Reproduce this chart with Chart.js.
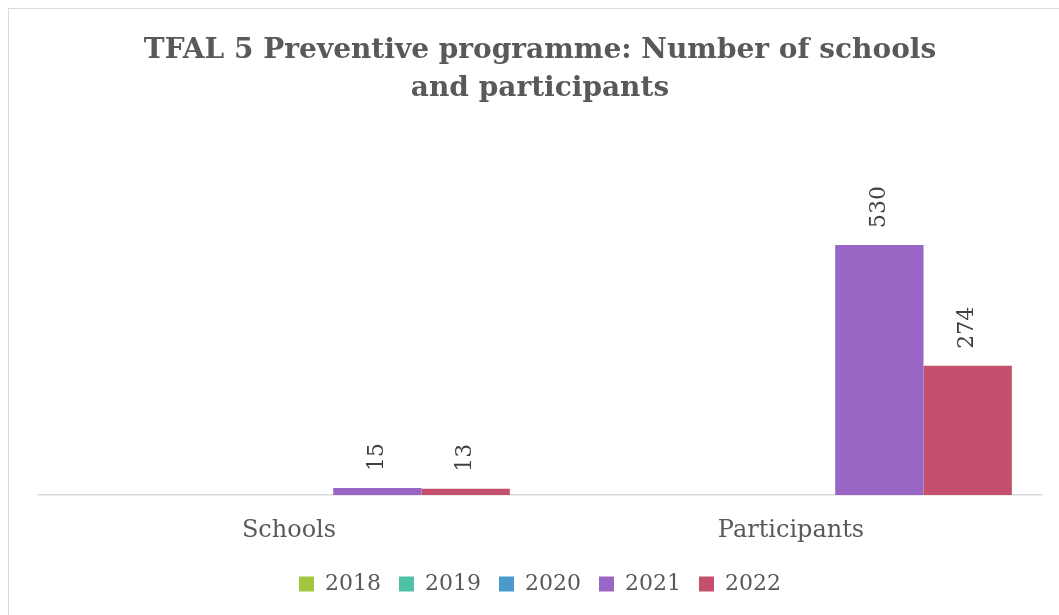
<!DOCTYPE html>
<html>
<head>
<meta charset="utf-8">
<script src="https://cdn.jsdelivr.net/npm/chart.js@4"></script>
<style>
  body { margin: 0; background: #fff; }
  #wrap { position: absolute; left: 8px; top: 8px; width: 1050px; height: 606px; border: 1px solid #d9d9d9; }
</style>
</head>
<body>
<div id="wrap"><canvas id="tfalChart"></canvas></div>
<script>
// chart data
const categories = ['Schools', 'Participants'];
const years = ['2018', '2019', '2020', '2021', '2022'];
const values2018 = [null, null];
const values2019 = [null, null];
const values2020 = [null, null];
const values2021 = [15, 530];
const values2022 = [13, 274];
const yearColors = ['#a2c43f', '#4fc0a3', '#479acb', '#9966c6', '#c5506e'];

const allValues = [values2018, values2019, values2020, values2021, values2022];

// rotated value labels above the bars
const valueLabels = {
    id: 'valueLabels',
    afterDatasetsDraw(chart) {
        const ctx = chart.ctx;
        chart.data.datasets.forEach((ds, i) => {
            const meta = chart.getDatasetMeta(i);
            meta.data.forEach((bar, j) => {
                const v = ds.data[j];
                if (v === null || v === undefined) return;
                ctx.save();
                ctx.translate(bar.x, bar.y - 17);
                ctx.rotate(-Math.PI / 2);
                ctx.font = '22px "DejaVu Serif"';
                ctx.fillStyle = '#404040';
                ctx.textAlign = 'left';
                ctx.textBaseline = 'middle';
                ctx.fillText(String(v), 0, 0);
                ctx.restore();
            });
        });
    }
};

const ctx = document.getElementById('tfalChart').getContext('2d');
const tfalChart = new Chart(ctx, {
    type: 'bar',
    data: {
        labels: categories,
        datasets: years.map((y, i) => ({
            label: y,
            data: allValues[i],
            backgroundColor: yearColors[i],
            borderWidth: 0,
            categoryPercentage: 0.88,
            barPercentage: 1
        }))
    },
    options: {
        responsive: true,
        maintainAspectRatio: false,
        animation: false,
        layout: { padding: { left: 29, right: 17, top: 0, bottom: 10 } },
        plugins: {
            title: {
                display: true,
                text: ['TFAL 5 Preventive programme: Number of schools', 'and participants'],
                color: '#595959',
                font: { family: '"DejaVu Serif"', size: 28, weight: 'bold', lineHeight: '38px' },
                padding: { top: 23, bottom: 104 }
            },
            legend: {
                position: 'bottom',
                labels: {
                    color: '#595959',
                    font: { family: '"DejaVu Serif"', size: 22 },
                    boxWidth: 15,
                    boxHeight: 15,
                    padding: 18
                }
            },
            tooltip: { enabled: false }
        },
        scales: {
            x: {
                grid: { display: false, drawTicks: false },
                border: { color: '#d9d9d9', width: 1.5 },
                ticks: {
                    color: '#595959',
                    font: { family: '"DejaVu Serif"', size: 24, lineHeight: '24px' },
                    padding: 24
                },
                // keep the axis band short so the legend sits close under the labels
                afterFit: (scale) => { scale.height = 60; }
            },
            y: {
                display: false,
                min: 0,
                max: 600
            }
        }
    },
    plugins: [valueLabels]
});
</script>
</body>
</html>
